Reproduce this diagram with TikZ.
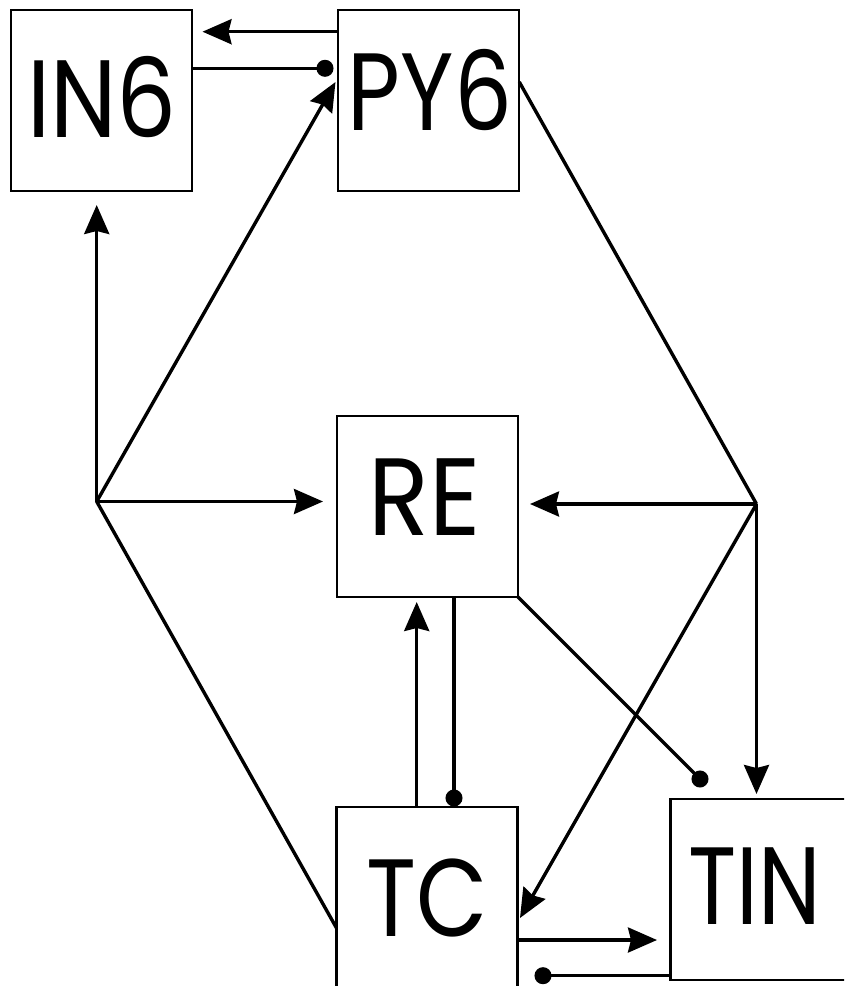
\documentclass[tikz,border=0pt]{standalone}
\usepackage{fontspec}
\setmainfont{Poppins}
\usetikzlibrary{arrows.meta}
\tikzset{
  box/.style={draw, line width=2.3pt, fill=white, minimum width=181pt, minimum height=181pt, inner sep=0pt, outer sep=0pt},
  lbl/.style={inner sep=0pt, font=\fontsize{110}{110}\selectfont},
  conn/.style={line width=3.4pt},
  arr/.style={conn, -{Stealth[length=29pt,width=25pt,inset=3pt]}},
  dotend/.style={conn, -{Circle[length=17pt,width=17pt]}, shorten >=-8.5pt},
}
\begin{document}
\begin{tikzpicture}[x=1pt,y=-1pt]
\clip (0,0) rectangle (844,986);
\fill[white] (0,0) rectangle (844,986);
% boxes
\node[box] (IN6) at (101.7,100.3) {};
\node[box] (PY6) at (428.8,100.7) {};
\node[box] (RE)  at (427.3,506.3) {};
\node[box] (TC)  at (427,897.2) {};
\node[box] (TIN) at (761,889.5) {};
% labels
\node[lbl] (IN6t) at (102,96.7) {\scalebox{0.86}[1]{IN6}};
\node[lbl] (PY6t) at (430,90) {\scalebox{0.83}[1]{PY6}};
\node[lbl] (REt)  at (424.4,496.7) {\scalebox{0.91}[1]{RE}};
\node[lbl] (TCt)  at (427.5,898) {\scalebox{0.84}[1]{TC}};
\node[lbl] (TINt) at (755,886) {\scalebox{0.81}[1]{TIN}};
% hubs, tips and dot centres
\coordinate (L) at (96.7,501.5);
\coordinate (R) at (756.5,504);
\coordinate (t1) at (202.5,31.7);
\coordinate (t3) at (96.7,205);
\coordinate (t4) at (335.5,82);
\coordinate (t5) at (323,501.5);
\coordinate (t8) at (530,504);
\coordinate (t9) at (756.5,794);
\coordinate (t10) at (520,918);
\coordinate (t11) at (416.7,602);
\coordinate (t14) at (657,940);
\coordinate (d1) at (325,68.3);
\coordinate (d2) at (454,798);
\coordinate (d3) at (700,779);
\coordinate (d4) at (543,975.7);
\coordinate (c1) at (0,928);
\coordinate (c2) at (0,82);
% connectors
\draw[arr] (PY6.west |- t1) -- (t1);
\draw[dotend] (IN6.east |- d1) -- (d1);
\draw[arr] (L) -- (t3);
\draw[arr] (L) -- (t4);
\draw[arr] (L) -- (t5);
\draw[conn] (L) -- (TC.west |- c1);
\draw[conn] (PY6.east |- c2) -- (R);
\draw[arr] (R) -- (t8);
\draw[arr] (R) -- (t9);
\draw[arr] (R) -- (t10);
\draw[arr] (TC.north -| t11) -- (t11);
\draw[dotend] (RE.south -| d2) -- (d2);
\draw[dotend] (RE.south east) -- (d3);
\draw[arr] (TC.east |- t14) -- (t14);
\draw[dotend] (TIN.west |- d4) -- (d4);
\end{tikzpicture}
\end{document}
